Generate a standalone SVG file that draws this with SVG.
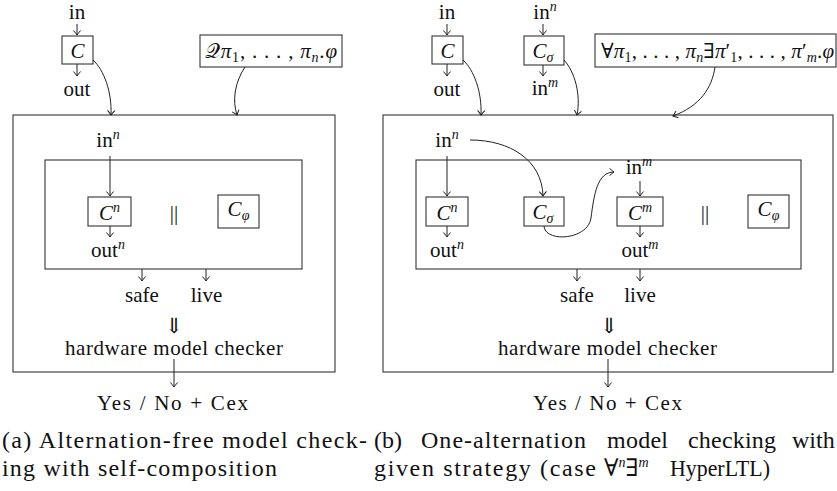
<svg xmlns="http://www.w3.org/2000/svg" width="837" height="491" viewBox="0 0 837 491">
<style>
text{font-family:'Liberation Serif','DejaVu Serif',serif}
.t{font-size:21px;fill:#111}
.i{font-style:italic}
.s{font-size:14px}
.cap{font-size:24px;fill:#111}
.box{fill:none;stroke:#333;stroke-width:1.1}
.c{fill:none;stroke:#222;stroke-width:1;marker-end:url(#ah)}
</style>
<defs>
<marker id="ah" viewBox="-6 -5 7 10" markerWidth="7" markerHeight="10" refX="0" refY="0" orient="auto" markerUnits="userSpaceOnUse" style="overflow:visible">
<path d="M-4.5,-3.6 Q-1.5,-1 0,0 Q-1.5,1 -4.5,3.6" fill="none" stroke="#222" stroke-width="1"/>
</marker>
</defs>
<rect width="837" height="491" fill="#fff"/>

<!-- ===== Panel (a) ===== -->
<g id="a-outer"><rect class="box" x="13" y="115" width="322" height="257"/></g>
<g id="a-inner"><rect class="box" x="45" y="160" width="257" height="109"/></g>
<g id="a-in"><text class="t" x="77" y="18.5" text-anchor="middle">in</text></g>
<g id="a-C"><rect class="box" x="62" y="36" width="31" height="28"/><text class="t i" x="77.5" y="58" text-anchor="middle">C</text></g>
<g id="a-out"><text class="t" x="77" y="96" text-anchor="middle">out</text></g>
<g id="a-formula"><rect class="box" x="200" y="35" width="142" height="32"/><text class="t" x="271" y="58" text-anchor="middle" textLength="132" lengthAdjust="spacing">𝒬<tspan class="i">π</tspan><tspan class="s" dy="4">1</tspan><tspan dy="-4">, . . . , </tspan><tspan class="i">π</tspan><tspan class="s i" dy="4">n</tspan><tspan dy="-4">.</tspan><tspan class="i">φ</tspan></text></g>
<g id="a-inn"><text class="t" x="108" y="147" text-anchor="middle">in<tspan class="s i" dy="-8">n</tspan></text></g>
<g id="a-Cn"><rect class="box" x="88" y="197" width="43" height="29"/><text class="t" x="109.5" y="220" text-anchor="middle"><tspan class="i">C</tspan><tspan class="s i" dy="-8">n</tspan></text></g>
<g id="a-outn"><text class="t" x="108" y="257" text-anchor="middle">out<tspan class="s i" dy="-8">n</tspan></text></g>
<g id="a-par"><text class="t" x="174" y="220" text-anchor="middle">||</text></g>
<g id="a-Cphi"><rect class="box" x="218" y="195" width="41" height="33"/><text class="t" x="238.5" y="216" text-anchor="middle"><tspan class="i">C</tspan><tspan class="s i" dy="4">φ</tspan></text></g>
<g id="a-safe"><text class="t" x="142" y="302" text-anchor="middle">safe</text></g>
<g id="a-live"><text class="t" x="206.5" y="302" text-anchor="middle">live</text></g>
<g id="a-impl"><text class="t" x="174" y="333" text-anchor="middle">⇓</text></g>
<g id="a-checker"><text class="t" x="65" y="355" textLength="218" lengthAdjust="spacing">hardware model checker</text></g>
<g id="a-result"><text class="t" x="97" y="410" textLength="151" lengthAdjust="spacing">Yes / No + Cex</text></g>

<!-- ===== Panel (b) ===== -->
<g id="b-outer"><rect class="box" x="383" y="115" width="450" height="257"/></g>
<g id="b-inner"><rect class="box" x="416" y="160" width="385" height="109"/></g>
<g id="b-in"><text class="t" x="447" y="18.5" text-anchor="middle">in</text></g>
<g id="b-C"><rect class="box" x="432" y="36" width="31" height="28"/><text class="t i" x="447.5" y="58" text-anchor="middle">C</text></g>
<g id="b-out"><text class="t" x="447" y="96" text-anchor="middle">out</text></g>
<g id="b-inn-top"><text class="t" x="545" y="18.5" text-anchor="middle">in<tspan class="s i" dy="-8">n</tspan></text></g>
<g id="b-Csigma-top"><rect class="box" x="524" y="36" width="40" height="29"/><text class="t" x="543" y="58" text-anchor="middle"><tspan class="i">C</tspan><tspan class="s i" dy="4">σ</tspan></text></g>
<g id="b-inm-top"><text class="t" x="545" y="95" text-anchor="middle">in<tspan class="s i" dy="-8">m</tspan></text></g>
<g id="b-formula"><rect class="box" x="595" y="34" width="241" height="33"/><text class="t" x="717.5" y="58" text-anchor="middle" textLength="233" lengthAdjust="spacing">∀<tspan class="i">π</tspan><tspan class="s" dy="4">1</tspan><tspan dy="-4">, . . . , </tspan><tspan class="i">π</tspan><tspan class="s i" dy="4">n</tspan><tspan dy="-4">∃</tspan><tspan class="i">π</tspan><tspan>′</tspan><tspan class="s" dy="4">1</tspan><tspan dy="-4">, . . . , </tspan><tspan class="i">π</tspan><tspan>′</tspan><tspan class="s i" dy="4">m</tspan><tspan dy="-4">.</tspan><tspan class="i">φ</tspan></text></g>
<g id="b-inn"><text class="t" x="447" y="147" text-anchor="middle">in<tspan class="s i" dy="-8">n</tspan></text></g>
<g id="b-Cn"><rect class="box" x="426" y="197" width="42" height="29"/><text class="t" x="447" y="220" text-anchor="middle"><tspan class="i">C</tspan><tspan class="s i" dy="-8">n</tspan></text></g>
<g id="b-outn"><text class="t" x="447" y="257" text-anchor="middle">out<tspan class="s i" dy="-8">n</tspan></text></g>
<g id="b-Csigma"><rect class="box" x="524" y="197" width="40" height="29"/><text class="t" x="543" y="219" text-anchor="middle"><tspan class="i">C</tspan><tspan class="s i" dy="4">σ</tspan></text></g>
<g id="b-inm"><text class="t" x="639" y="174" text-anchor="middle">in<tspan class="s i" dy="-8">m</tspan></text></g>
<g id="b-Cm"><rect class="box" x="617" y="197" width="46" height="29"/><text class="t" x="640" y="220" text-anchor="middle"><tspan class="i">C</tspan><tspan class="s i" dy="-8">m</tspan></text></g>
<g id="b-outm"><text class="t" x="640" y="257" text-anchor="middle">out<tspan class="s i" dy="-8">m</tspan></text></g>
<g id="b-par"><text class="t" x="705" y="220" text-anchor="middle">||</text></g>
<g id="b-Cphi"><rect class="box" x="748" y="195" width="41" height="33"/><text class="t" x="768.5" y="216" text-anchor="middle"><tspan class="i">C</tspan><tspan class="s i" dy="4">φ</tspan></text></g>
<g id="b-safe"><text class="t" x="577" y="302" text-anchor="middle">safe</text></g>
<g id="b-live"><text class="t" x="640" y="302" text-anchor="middle">live</text></g>
<g id="b-impl"><text class="t" x="609" y="333" text-anchor="middle">⇓</text></g>
<g id="b-checker"><text class="t" x="498" y="355" textLength="219" lengthAdjust="spacing">hardware model checker</text></g>
<g id="b-result"><text class="t" x="533" y="410" textLength="149" lengthAdjust="spacing">Yes / No + Cex</text></g>

<!-- ===== Connectors ===== -->
<g id="connectors">
<path class="c" d="M77,24 L77,35"/>
<path class="c" d="M77,64 L77,76"/>
<path class="c" d="M93,60 C104,70 112,92 111,115"/>
<path class="c" d="M245,67 C235,82 232,100 237,115"/>
<path class="c" d="M110,156 L110,196"/>
<path class="c" d="M110,226 L110,237"/>
<path class="c" d="M142,269 L142,281"/>
<path class="c" d="M206,269 L206,281"/>
<path class="c" d="M174,359 L174,387"/>
<path class="c" d="M447,24 L447,35"/>
<path class="c" d="M447,64 L447,76"/>
<path class="c" d="M543,24 L543,35"/>
<path class="c" d="M543,65 L543,76"/>
<path class="c" d="M463,60 C474,70 482,92 481,115"/>
<path class="c" d="M564,60 C575,72 581,95 577,115"/>
<path class="c" d="M715,67 C712,88 700,106 673,116"/>
<path class="c" d="M447,156 L447,196"/>
<path class="c" d="M447,226 L447,237"/>
<path class="c" d="M470,140 C510,140 542,160 543,196"/>
<path class="c" d="M544,226 C545,243 588,240 591,218 C594,195 597,172 614,172"/>
<path class="c" d="M640,181 L640,196"/>
<path class="c" d="M640,226 L640,237"/>
<path class="c" d="M577,269 L577,281"/>
<path class="c" d="M640,269 L640,281"/>
<path class="c" d="M608,359 L608,387"/>
</g>

<!-- ===== Captions ===== -->
<g id="caption-a">
<text class="cap" x="2" y="448" textLength="365" lengthAdjust="spacing">(a) Alternation-free model check-</text>
<text class="cap" x="2" y="476" textLength="275" lengthAdjust="spacing">ing with self-composition</text>
</g>
<g id="caption-b">
<text class="cap" x="374" y="448">(b)</text>
<text class="cap" x="421" y="448" textLength="165" lengthAdjust="spacing">One-alternation</text>
<text class="cap" x="607" y="448" textLength="61" lengthAdjust="spacing">model</text>
<text class="cap" x="688" y="448" textLength="88" lengthAdjust="spacing">checking</text>
<text class="cap" x="792" y="448">with</text>
<text class="cap" x="374" y="476" textLength="222" lengthAdjust="spacing">given strategy (case</text>
<text class="cap" x="604" y="476">∀<tspan class="s i" dy="-9">n</tspan><tspan dy="9">∃</tspan><tspan class="s i" dy="-9">m</tspan></text>
<text class="cap" x="670" y="476" textLength="100" lengthAdjust="spacingAndGlyphs">HyperLTL)</text>
</g>
</svg>
